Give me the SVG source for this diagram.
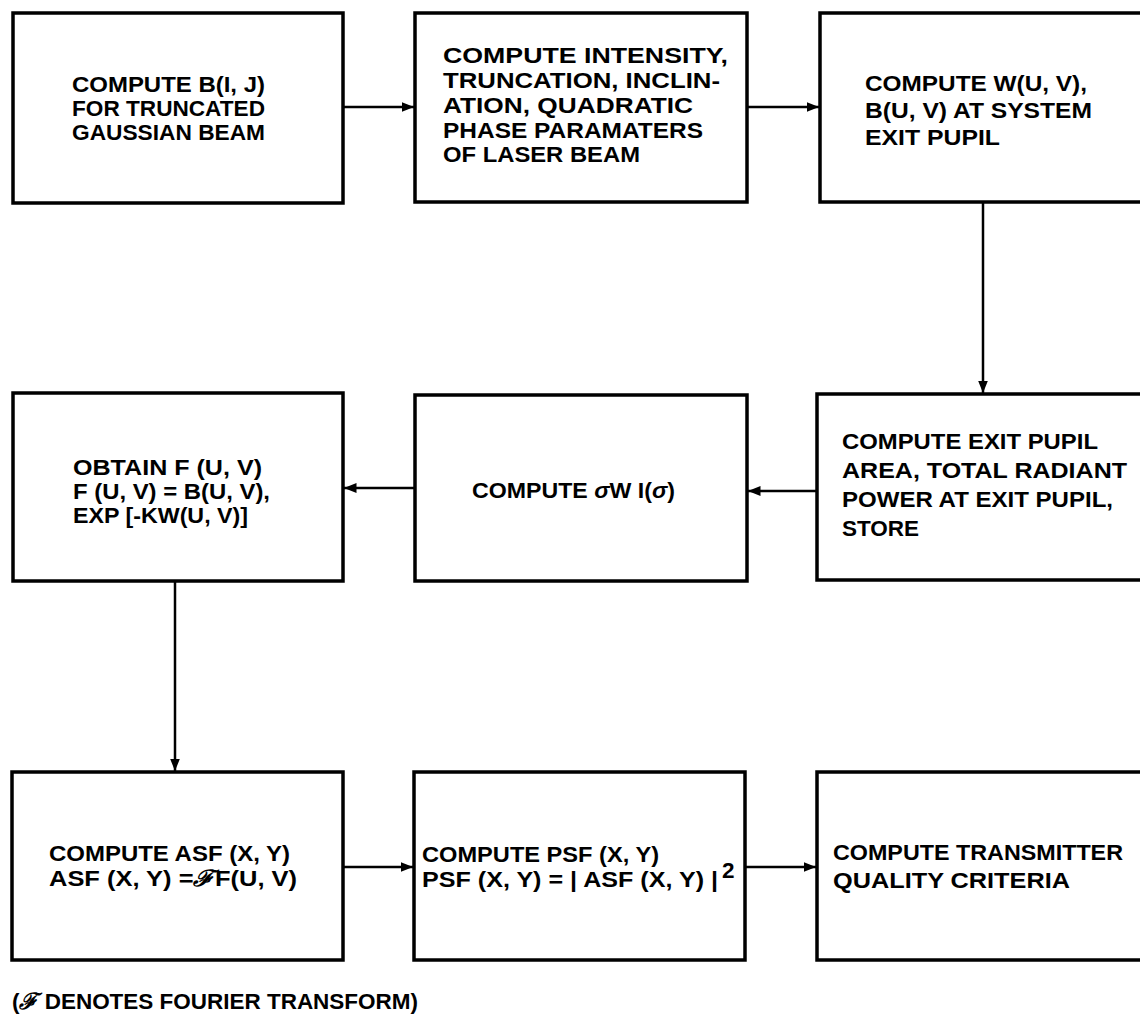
<svg xmlns="http://www.w3.org/2000/svg" width="1140" height="1017" viewBox="0 0 1140 1017">
<defs>
<style>
.box{fill:#fff;stroke:#000;stroke-width:3.5}
.t{font-family:"Liberation Sans",Arial,sans-serif;font-size:22.5px;font-weight:bold;fill:#000}
.c{fill:none;stroke:#000;stroke-width:2.5}
</style>
<marker id="ah" viewBox="0 0 10 10" refX="10" refY="5" markerWidth="5" markerHeight="5" orient="auto" markerUnits="strokeWidth">
<path d="M0,1 L10,5 L0,9 Z" fill="#000"/>
</marker>
</defs>
<rect width="1140" height="1017" fill="#fff"/>
<g id="connectors">
<line class="c" x1="343" y1="107" x2="414" y2="107" marker-end="url(#ah)"/>
<line class="c" x1="747" y1="107" x2="819" y2="107" marker-end="url(#ah)"/>
<line class="c" x1="983" y1="202" x2="983" y2="393" marker-end="url(#ah)"/>
<line class="c" x1="817" y1="491" x2="748" y2="491" marker-end="url(#ah)"/>
<line class="c" x1="415" y1="488" x2="344" y2="488" marker-end="url(#ah)"/>
<line class="c" x1="175" y1="581" x2="175" y2="771" marker-end="url(#ah)"/>
<line class="c" x1="343" y1="867" x2="413" y2="867" marker-end="url(#ah)"/>
<line class="c" x1="745" y1="867" x2="816" y2="867" marker-end="url(#ah)"/>
</g>
<g id="n1">
<rect class="box" x="13" y="13" width="330" height="190"/>
<text class="t" x="72" y="92" textLength="193" lengthAdjust="spacingAndGlyphs">COMPUTE B(I, J)</text>
<text class="t" x="72" y="116" textLength="193" lengthAdjust="spacingAndGlyphs">FOR TRUNCATED</text>
<text class="t" x="72" y="140" textLength="193" lengthAdjust="spacingAndGlyphs">GAUSSIAN BEAM</text>
</g>
<g id="n2">
<rect class="box" x="415" y="13" width="332" height="189"/>
<text class="t" x="443" y="63" textLength="285" lengthAdjust="spacingAndGlyphs">COMPUTE INTENSITY,</text>
<text class="t" x="443" y="88" textLength="277" lengthAdjust="spacingAndGlyphs">TRUNCATION, INCLIN-</text>
<text class="t" x="443" y="113" textLength="250" lengthAdjust="spacingAndGlyphs">ATION,  QUADRATIC</text>
<text class="t" x="443" y="138" textLength="260" lengthAdjust="spacingAndGlyphs">PHASE  PARAMATERS</text>
<text class="t" x="443" y="162" textLength="197" lengthAdjust="spacingAndGlyphs">OF LASER BEAM</text>
</g>
<g id="n3">
<rect class="box" x="820" y="13" width="340" height="189"/>
<text class="t" x="865" y="91" textLength="222" lengthAdjust="spacingAndGlyphs">COMPUTE W(U, V),</text>
<text class="t" x="865" y="118" textLength="227" lengthAdjust="spacingAndGlyphs">B(U, V) AT SYSTEM</text>
<text class="t" x="865" y="145" textLength="135" lengthAdjust="spacingAndGlyphs">EXIT PUPIL</text>
</g>
<g id="n6">
<rect class="box" x="817" y="394" width="340" height="186"/>
<text class="t" x="842" y="449" textLength="256" lengthAdjust="spacingAndGlyphs">COMPUTE EXIT PUPIL</text>
<text class="t" x="842" y="478" textLength="285" lengthAdjust="spacingAndGlyphs">AREA, TOTAL RADIANT</text>
<text class="t" x="842" y="507" textLength="271" lengthAdjust="spacingAndGlyphs">POWER AT EXIT PUPIL,</text>
<text class="t" x="842" y="536">STORE</text>
</g>
<g id="n5">
<rect class="box" x="415" y="395" width="332" height="186"/>
<text class="t" x="472" y="498" textLength="203" lengthAdjust="spacingAndGlyphs">COMPUTE <tspan font-style="italic">σ</tspan>W I(<tspan font-style="italic">σ</tspan>)</text>
</g>
<g id="n4">
<rect class="box" x="13" y="393" width="330" height="188"/>
<text class="t" x="73" y="475" textLength="189" lengthAdjust="spacingAndGlyphs">OBTAIN F (U, V)</text>
<text class="t" x="73" y="499" textLength="197" lengthAdjust="spacingAndGlyphs">F (U, V) = B(U, V),</text>
<text class="t" x="73" y="523" textLength="175" lengthAdjust="spacingAndGlyphs">EXP [-KW(U, V)]</text>
</g>
<g id="n7">
<rect class="box" x="12" y="772" width="331" height="188"/>
<text class="t" x="49" y="861" textLength="241" lengthAdjust="spacingAndGlyphs">COMPUTE ASF (X, Y)</text>
<text class="t" x="49" y="886" textLength="248" lengthAdjust="spacingAndGlyphs">ASF (X, Y) =<tspan font-family="'DejaVu Serif',serif" font-style="italic">ℱ</tspan>F(U, V)</text>
</g>
<g id="n8">
<rect class="box" x="414" y="772" width="331" height="188"/>
<text class="t" x="422" y="862" textLength="237" lengthAdjust="spacingAndGlyphs">COMPUTE PSF (X, Y)</text>
<text class="t" x="422" y="887" textLength="296" lengthAdjust="spacingAndGlyphs">PSF (X, Y) = | ASF (X, Y) |</text>
<text class="t" x="722" y="878" font-size="16">2</text>
</g>
<g id="n9">
<rect class="box" x="817" y="772" width="340" height="188"/>
<text class="t" x="833" y="860" textLength="290" lengthAdjust="spacingAndGlyphs">COMPUTE TRANSMITTER</text>
<text class="t" x="833" y="888" textLength="237" lengthAdjust="spacingAndGlyphs">QUALITY CRITERIA</text>
</g>
<g id="footer">
<text class="t" x="12" y="1009" textLength="406" lengthAdjust="spacingAndGlyphs">(<tspan font-family="'DejaVu Serif',serif" font-style="italic">ℱ</tspan> DENOTES FOURIER TRANSFORM)</text>
</g>
</svg>
